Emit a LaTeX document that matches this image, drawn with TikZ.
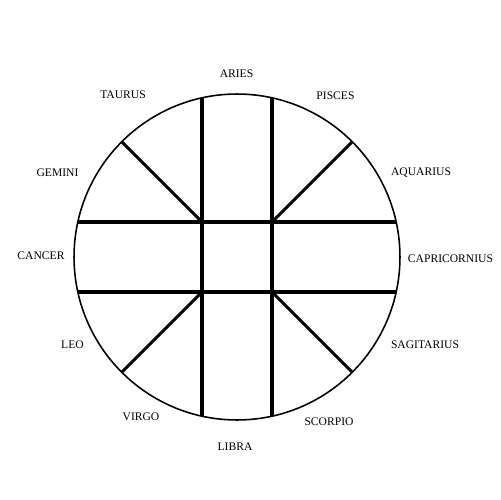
\documentclass[tikz,border=0pt]{standalone}
\usepackage{fontspec}
\setmainfont{Liberation Serif}
\begin{document}
\begin{tikzpicture}[x=0.02cm,y=-0.02cm,
  sign/.style={font=\fontsize{6.6}{7}\selectfont, inner sep=0pt, text=black},
  bar/.style={line width=1.8pt, black},
  rim/.style={line width=0.9pt, black}]
\useasboundingbox (0,0) rectangle (500,500);
\coordinate (c) at (237,257);
\draw[rim] (c) circle [radius=3.26cm];
% circle end points
\coordinate (vlt) at (202,97.8);  \coordinate (vlb) at (202,416.2);
\coordinate (vrt) at (272,97.8);  \coordinate (vrb) at (272,416.2);
\coordinate (htl) at (77.8,222);  \coordinate (htr) at (396.2,222);
\coordinate (hbl) at (77.8,292);  \coordinate (hbr) at (396.2,292);
% inner corners
\coordinate (q1) at (202,222); \coordinate (q2) at (272,222);
\coordinate (q3) at (202,292); \coordinate (q4) at (272,292);
% diagonal ends
\coordinate (d1) at (121.7,141.7); \coordinate (d2) at (352.3,141.7);
\coordinate (d3) at (121.7,372.3); \coordinate (d4) at (352.3,372.3);
\draw[bar] (vlt) -- (vlb);
\draw[bar] (vrt) -- (vrb);
\draw[bar] (htl) -- (htr);
\draw[bar] (hbl) -- (hbr);
\draw[bar] (q1) -- (d1);
\draw[bar] (q2) -- (d2);
\draw[bar] (q3) -- (d3);
\draw[bar] (q4) -- (d4);
% labels
\node[sign] (aries) at (236.5,73.5) {ARIES};
\node[sign] (taurus) at (123,95) {TAURUS};
\node[sign] (pisces) at (335.5,95.5) {PISCES};
\node[sign] (gemini) at (57.5,172.5) {GEMINI};
\node[sign] (aquarius) at (421,172.5) {AQUARIUS};
\node[sign] (cancer) at (41,256) {CANCER};
\node[sign] (capricornius) at (450.5,259) {CAPRICORNIUS};
\node[sign] (leo) at (72.5,345) {LEO};
\node[sign] (sagitarius) at (425,345) {SAGITARIUS};
\node[sign] (virgo) at (141,417) {VIRGO};
\node[sign] (scorpio) at (329,422) {SCORPIO};
\node[sign] (libra) at (235,447) {LIBRA};
\end{tikzpicture}
\end{document}
